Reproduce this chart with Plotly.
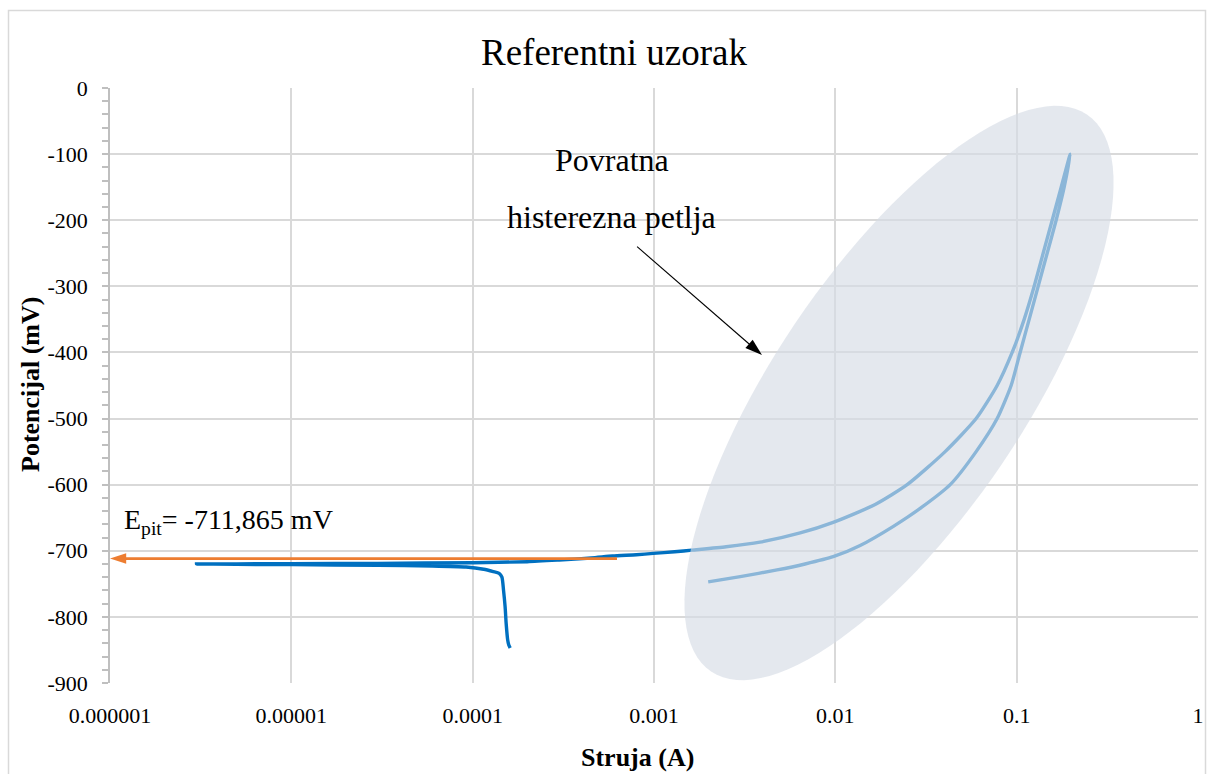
import numpy as np
import plotly.graph_objects as go

# Potentiodynamic scan, in recording order:
# cathodic branch -> forward anodic sweep -> reverse sweep
current_a = [
    1.61e-4, 1.58e-4, 1.56e-4, 1.53e-4, 1.51e-4, 1.48e-4, 1.45e-4, 1.40e-4,
    1.30e-4, 1.15e-4, 9.2e-5, 6e-5, 3e-5, 1e-5, 5e-6, 3e-6,
    5e-6, 1e-5, 3e-5, 1e-4, 2e-4, 3e-4, 4.5e-4, 5.9e-4, 8e-4, 9.9e-4,
    1.3e-3, 1.62e-3, 2.5e-3, 3.84e-3, 6.4e-3, 9.73e-3, 1.658e-2,
    2.489e-2, 4.033e-2, 5.978e-2, 7.805e-2, 9.445e-2, 0.11, 0.1249,
    0.14, 0.157, 0.176, 0.1973,
    0.1828, 0.1651, 0.1473, 0.1314, 0.1172, 0.1045, 0.0932, 0.07805,
    0.05978, 0.043, 0.02935, 0.0209, 0.0137, 9.73e-3, 6.81e-3, 4.77e-3,
    2.99e-3, 1.99e-3,
]
potential_mv = [
    -847, -842, -835, -810, -785, -760, -740, -734,
    -731.5, -728, -724.6, -723, -722, -721, -720.5, -720,
    -719.8, -719.5, -719, -718, -716.5, -714, -711, -708, -706, -704,
    -701.5, -699, -694, -687, -673, -657, -630,
    -600, -550, -500, -450, -400, -350, -300,
    -250, -200, -150, -100,
    -150, -200, -250, -300, -350, -400, -450, -500,
    -550, -600, -636, -663, -692, -709, -720, -729,
    -739, -747,
]

# Pitting potential and the current where its marker line starts
E_PIT_MV = -711.865
E_PIT_FROM_A = 6.25e-4

# Pointer from the loop label towards the highlighted region
pointer_a = [8.07e-4, 3.94e-3]
pointer_mv = [-240, -404]

x_tick_vals = [1e-6, 1e-5, 1e-4, 1e-3, 1e-2, 1e-1, 1]
x_tick_text = ["0.000001", "0.00001", "0.0001", "0.001", "0.01", "0.1", "1"]
y_tick_vals = [0, -100, -200, -300, -400, -500, -600, -700, -800, -900]
y_tick_text = [str(v) for v in y_tick_vals]

# Plot-area geometry (pixels) used for paper-space decorations
W, H = 1214, 774
PL, PR, PT, PB = 110, 16, 88, 91
PW, PH = W - PL - PR, H - PT - PB


def paper(px, py):
    return (px - PL) / PW, (PH + PT - py) / PH


FONT = "Liberation Serif, Times New Roman, serif"
GRID = "#D9D9D9"
AXIS = "#BFBFBF"

fig = go.Figure()
fig.add_trace(go.Scatter(
    x=current_a, y=potential_mv, mode="lines",
    line=dict(color="#0070C0", width=3.4, shape="spline", smoothing=0.6),
    hoverinfo="skip", showlegend=False,
))

# Pitting-potential marker line, arrowhead at the potential axis
fig.add_trace(go.Scatter(
    x=[E_PIT_FROM_A, x_tick_vals[0]], y=[E_PIT_MV, E_PIT_MV],
    mode="lines+markers", cliponaxis=False,
    line=dict(color="#ED7D31", width=2.6),
    marker=dict(symbol="arrow", size=17, angleref="previous",
                color="#ED7D31", line=dict(width=0)),
    hoverinfo="skip", showlegend=False,
))

# Loop label pointer
fig.add_trace(go.Scatter(
    x=pointer_a, y=pointer_mv, mode="lines+markers", cliponaxis=False,
    line=dict(color="#000000", width=1.1),
    marker=dict(symbol="arrow", size=18, angleref="previous",
                color="#000000", line=dict(width=0)),
    hoverinfo="skip", showlegend=False,
))

# Translucent ellipse highlighting the hysteresis loop
cx, cy, a, b, ang = 899, 393, 336, 125, np.deg2rad(56)
t = np.linspace(0, 2 * np.pi, 121)
ex = cx + a * np.cos(t) * np.cos(ang) - b * np.sin(t) * np.sin(ang)
ey = cy - a * np.cos(t) * np.sin(ang) - b * np.sin(t) * np.cos(ang)
pts = [paper(x, y) for x, y in zip(ex, ey)]
path = "M " + " L ".join(f"{x:.5f},{y:.5f}" for x, y in pts) + " Z"

bx0, by0 = paper(8.5, 780)
bx1, by1 = paper(1205.5, 10.5)

fig.update_layout(
    width=W, height=H,
    margin=dict(l=PL, r=PR, t=PT, b=PB, autoexpand=False),
    paper_bgcolor="white", plot_bgcolor="white",
    font=dict(family=FONT, color="#000000"),
    title=dict(text="Referentni uzorak", font=dict(size=37, family=FONT),
               x=614 / W, y=1 - 52 / H, xref="container", yref="container",
               xanchor="center", yanchor="middle"),
    xaxis=dict(type="log", range=[-6, 0], tickmode="array",
               tickvals=x_tick_vals, ticktext=x_tick_text,
               showgrid=True, gridcolor=GRID, gridwidth=1.5,
               zeroline=False, showline=True, linecolor="white", linewidth=2,
               ticks="", tickfont=dict(size=22), ticklabelstandoff=12,
               automargin=False),
    yaxis=dict(range=[-900, 0], tickmode="array",
               tickvals=y_tick_vals, ticktext=y_tick_text,
               showgrid=True, gridcolor=GRID, gridwidth=1.5, zeroline=False,
               showline=True, linecolor=AXIS, linewidth=1.5,
               ticks="outside", ticklen=6, tickcolor=AXIS, tickwidth=1.5,
               minor=dict(tickmode="linear", tick0=0, dtick=20,
                          ticks="outside", ticklen=6, tickcolor=AXIS,
                          tickwidth=1.5, showgrid=False),
               tickfont=dict(size=22), ticklabelstandoff=10,
               automargin=False),
    shapes=[
        dict(type="path", path=path, xref="paper", yref="paper",
             fillcolor="#D6DCE5", opacity=0.65, line=dict(width=0),
             layer="above"),
        dict(type="rect", xref="paper", yref="paper",
             x0=bx0, y0=by0, x1=bx1, y1=by1,
             line=dict(color=GRID, width=1.5), fillcolor="rgba(0,0,0,0)",
             layer="below"),
    ],
)

# Axis titles
sx, sy = paper(637, 757)
fig.add_annotation(text="<b>Struja (A)</b>", xref="paper", yref="paper",
                   x=sx, y=sy, showarrow=False, font=dict(size=26),
                   xanchor="center", yanchor="middle")
vx, vy = paper(30, 385)
fig.add_annotation(text="<b>Potencijal (mV)</b>", xref="paper", yref="paper",
                   x=vx, y=vy, textangle=-90, showarrow=False,
                   font=dict(size=26), xanchor="center", yanchor="middle")

epit_label = f"E<sub>pit</sub>= {E_PIT_MV:.3f} mV".replace(".", ",")
ex_, ey_ = paper(122, 521)
fig.add_annotation(text=epit_label, xref="paper", yref="paper",
                   x=ex_, y=ey_, xanchor="left", yanchor="middle",
                   showarrow=False, font=dict(size=28))

p1x, p1y = paper(612, 160)
p2x, p2y = paper(611, 217)
fig.add_annotation(text="Povratna", xref="paper", yref="paper",
                   x=p1x, y=p1y, showarrow=False, font=dict(size=32),
                   xanchor="center", yanchor="middle")
fig.add_annotation(text="histerezna petlja", xref="paper", yref="paper",
                   x=p2x, y=p2y, showarrow=False, font=dict(size=32),
                   xanchor="center", yanchor="middle")

fig.write_html("out.html")
